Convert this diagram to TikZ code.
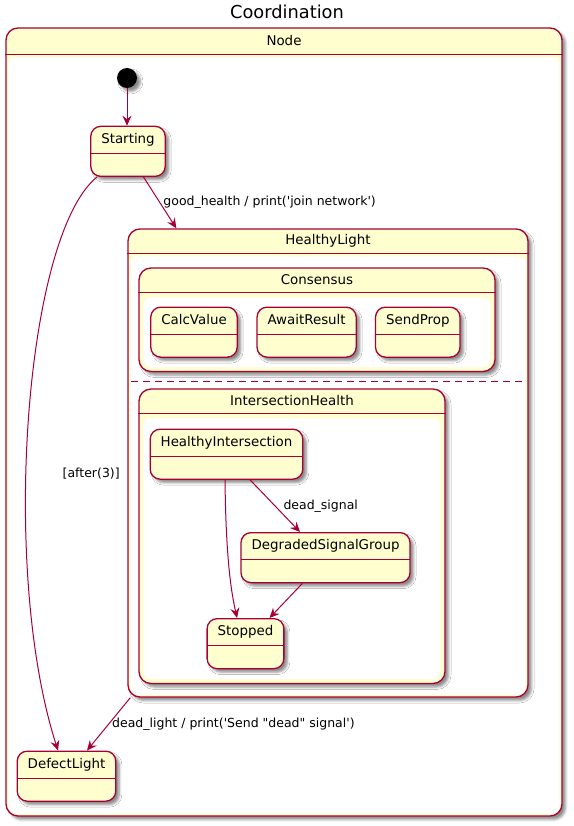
\documentclass[tikz,border=0pt]{standalone}
\usepackage{fontspec}
\newfontfamily\umlfont{DejaVu Sans}
\usetikzlibrary{positioning,arrows.meta,shadows.blur,fit,calc}

\definecolor{umlfill}{HTML}{FEFECE}
\definecolor{umlline}{HTML}{A80036}
\newcommand{\umlsize}{\fontsize{13.4}{15}\selectfont}
\newcommand{\edgesize}{\fontsize{12.5}{14}\selectfont}

\tikzset{
  umlshadow/.style={blur shadow={shadow xshift=3.5pt, shadow yshift=-3.5pt, shadow blur radius=2.5pt, shadow opacity=45}},
  state/.style={draw=umlline, fill=umlfill, line width=1.3pt, rounded corners=10pt, umlshadow,
    inner xsep=10.5pt, inner ysep=7pt, text height=10pt, text depth=26pt, font=\umlfont\umlsize,
    path picture={\draw[umlline, line width=1.3pt] ([yshift=-27pt]path picture bounding box.north west) -- ([yshift=-27pt]path picture bounding box.north east);}},
  compbox/.style={draw=umlline, fill=umlfill, line width=1.3pt, rounded corners=12pt, inner sep=0pt, umlshadow},
  initial/.style={circle, fill=black, minimum size=20pt, inner sep=0pt, umlshadow},
  trans/.style={draw=umlline, line width=1pt, -{Stealth[length=10pt, width=9pt, inset=3.5pt]}},
  edgelabel/.style={font=\umlfont\edgesize, inner sep=0pt}
}

% composite state: name, corners, label, header height, inset
\newcommand{\compstate}[5]{%
  \node[compbox, fit={#2}] (#1) {};
  \draw[umlline, line width=1.3pt] ([yshift=-#4pt]#1.north west) -- ([yshift=-#4pt]#1.north east);
  \fill[white, rounded corners=8pt] ($(#1.north west)+(#5,#4+#5)$) rectangle ($(#1.south east)+(-#5,-#5)$);
  \node[font=\umlfont\umlsize] at ([yshift=-#4pt/2]#1.north) {#3};
}

\begin{document}
\begin{tikzpicture}[x=1pt, y=-1pt]
  \useasboundingbox (0,0) rectangle (573,826);

  % Title
  \node[font=\umlfont\fontsize{17.8}{20}\selectfont] (title) at (287,12) {Coordination};

  % Outer state
  \compstate{outer}{(6,28)(562,816)}{Node}{27}{3}

  \node[initial] (init) at (127,78) {};
  \node[state, below=37.5pt of init, xshift=1pt] (starting) {Starting};
  \node[state, anchor=north] (defect) at (66.5,750.5) {DefectLight};

  % HealthyLight with its two regions
  \compstate{healthy}{(128,229)(528,697)}{HealthyLight}{25}{3}
  \coordinate (sep) at (0,381.5);
  \draw[umlline, line width=1.3pt, dash pattern=on 7pt off 5pt] ([xshift=4pt]healthy.west |- sep) -- ([xshift=-6pt]healthy.east |- sep);

  \compstate{consensus}{(139,268)(495,371.5)}{Consensus}{25}{5}
  \node[state, anchor=north] (calc) at (194,306.5) {CalcValue};
  \node[state, right=18.5pt of calc] (await) {AwaitResult};
  \node[state, right=18pt of await] (sendprop) {SendProp};

  \compstate{inthealth}{(139,389)(445,683.5)}{IntersectionHealth}{25}{5}
  \node[state, anchor=north] (healthyint) at (226.5,428.5) {HealthyIntersection};
  \node[state, anchor=north] (degraded) at (325.5,532) {DegradedSignalGroup};
  \node[state, anchor=north] (stopped) at (245.5,618) {Stopped};

  % Transitions
  \draw[trans] (init) -- (init |- starting.north);
  \draw[trans] ([xshift=15.5pt]starting.south) -- ([xshift=49pt]healthy.north west)
    node[edgelabel, midway, right=3pt] {good\_health / print('join network')};
  \draw[trans] ([xshift=-31pt]starting.south) .. controls (25,235) and (0,570) .. ([xshift=-8.5pt]defect.north)
    node[edgelabel, pos=0.58, right=36pt] {[after(3)]};
  \draw[trans] ([xshift=3pt]healthy.south west) -- ([xshift=20.5pt]defect.north)
    node[edgelabel, midway, right=3pt] {dead\_light / print('Send "dead" signal')};

  \draw[trans] ([xshift=23.5pt]healthyint.south) -- ([xshift=-25.5pt]degraded.north)
    node[edgelabel, midway, right=8pt] {dead\_signal};
  \draw[trans] ([xshift=-1.5pt]healthyint.south) .. controls (226,565) and (232,595) .. ([xshift=-8.5pt]stopped.north);
  \draw[trans] ([xshift=-23pt]degraded.south) -- ([xshift=24pt]stopped.north);

\end{tikzpicture}
\end{document}
